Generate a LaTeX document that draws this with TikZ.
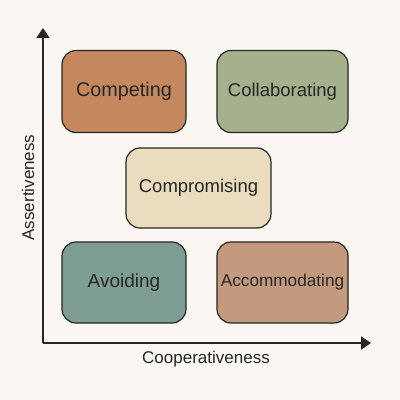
\documentclass[tikz,border=0pt]{standalone}
\usepackage{fontspec}
\setmainfont{Liberation Sans}
\usetikzlibrary{positioning}
\usetikzlibrary{arrows.meta}
\usepackage{xcolor}
\definecolor{bg}{HTML}{FAF7F2}
\definecolor{ink}{HTML}{262626}
\definecolor{rust}{HTML}{C4875E}
\definecolor{sage}{HTML}{A5B08D}
\definecolor{sand}{HTML}{EBDCC0}
\definecolor{teal}{HTML}{7E9D94}
\definecolor{clay}{HTML}{C49A7E}

\begin{document}
\begin{tikzpicture}[
		x=1pt, y=-1pt,
		m/.style = {rectangle, draw=ink, line width=1.2pt, rounded corners=14pt, text=ink, font=\fontsize{18.5}{20}\selectfont, inner sep=0pt},
		w/.style = {m, minimum width=124pt, minimum height=82pt},
		v/.style = {m, minimum width=131pt, minimum height=82pt},
		ax/.style = {-{Triangle[length=10pt, width=13pt]}, draw=ink, line width=1.8pt},
		lab/.style = {text=ink, font=\fontsize{17}{19}\selectfont, inner sep=0pt},
		]
		
		% === === Background === ===
		\fill[bg] (0, 0) rectangle (400, 400);
		\useasboundingbox (0, 0) rectangle (400, 400);
		
		% === === Nodes === ===
		\node[w, fill=rust, font=\fontsize{19.8}{21}\selectfont]	(compete)	at	(124, 91.5)	{Competing};
		\node[v, fill=sage]	(collab)	at	(282.5, 91.5)	{Collaborating};
		\node[m, fill=sand, minimum width=145pt, minimum height=80pt]	(comprom)	at	(198.5, 188)	{Compromising};
		\node[w, fill=teal, minimum height=81pt, font=\fontsize{19}{21}\selectfont]	(avoid)	at	(124, 282.5)	{Avoiding};
		\node[v, fill=clay, minimum height=81pt, font=\fontsize{17.2}{19}\selectfont]	(accom)	at	(282.5, 282.5)	{Accommodating};
		
		% === === Axes === ===
		\coordinate (o)		at	(43, 343);
		\coordinate (ytip)	at	(43, 28);
		\coordinate (xtip)	at	(371, 343);
		\draw[ax]	(o) -- (ytip);
		\draw[ax]	(o) -- (xtip);
		\node[lab, rotate=90]	(ylab)	at	(28, 187.5)	{Assertiveness};
		\node[lab]	(xlab)	at	(206, 359)	{Cooperativeness};
		
	\end{tikzpicture}
\end{document}
